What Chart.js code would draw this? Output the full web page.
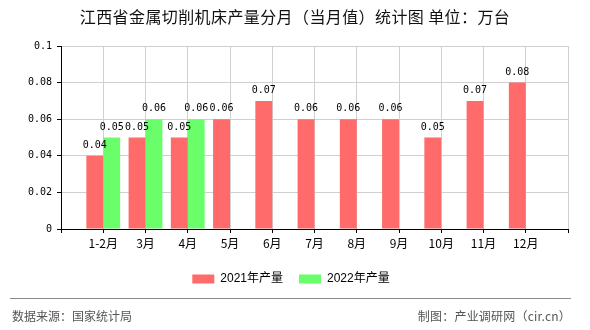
<!DOCTYPE html>
<html>
<head>
<meta charset="utf-8">
<script src="https://cdn.jsdelivr.net/npm/chart.js@4/dist/chart.umd.min.js"></script>
<style>
  body { margin: 0; background: #fff; }
  #wrap { position: relative; width: 590px; height: 330px; overflow: hidden; }
  #c { position: absolute; left: 0; top: 0; }
  .t { position: absolute; white-space: nowrap; font-family: "Noto Sans CJK SC", sans-serif; }
  #title { left: 0; width: 590px; top: 6px; text-align: center; font-size: 16px; line-height: 20px; color: #111; letter-spacing: 0.4px; }
  #rule { position: absolute; left: 10px; top: 298px; width: 561px; height: 1px; background: #8a8a8a; }
  #src { left: 12px; top: 307px; font-size: 12px; line-height: 18px; color: #555; }
  #maker { right: 19px; top: 307px; font-size: 12px; line-height: 18px; color: #555; letter-spacing: 0.2px; }
</style>
</head>
<body>
<div id="wrap">
  <canvas id="c" width="590" height="330"></canvas>
  <div id="title" class="t">江西省金属切削机床产量分月（当月值）统计图 单位：万台</div>
  <div id="rule"></div>
  <div id="src" class="t">数据来源：国家统计局</div>
  <div id="maker" class="t">制图：产业调研网（cir.cn）</div>
</div>
<script>
// Months on the x axis
const months = ['1-2月', '3月', '4月', '5月', '6月', '7月', '8月', '9月', '10月', '11月', '12月'];
// Monthly output, 10k units
const output2021 = [0.04, 0.05, 0.05, 0.06, 0.07, 0.06, 0.06, 0.06, 0.05, 0.07, 0.08];
const output2022 = [0.05, 0.06, 0.06];
// Y axis tick labels
const yTickLabels = ['0', '0.02', '0.04', '0.06', '0.08', '0.1'];
const seriesNames = ['2021年产量', '2022年产量'];

// The axis has an empty slot at each end, so months sit on the grid lines
const labels = [''].concat(months, ['']);
const pad = arr => [null].concat(arr, new Array(months.length - arr.length).fill(null), [null]);

const monoFont = { family: '"DejaVu Sans Mono", monospace', size: 10 };

// Value labels above each bar
const valueLabels = {
  id: 'valueLabels',
  afterDatasetsDraw(chart) {
    const ctx = chart.ctx;
    ctx.save();
    ctx.font = '10px "DejaVu Sans Mono", monospace';
    ctx.fillStyle = '#000';
    ctx.textAlign = 'center';
    ctx.textBaseline = 'alphabetic';
    chart.data.datasets.forEach((ds, i) => {
      const meta = chart.getDatasetMeta(i);
      meta.data.forEach((bar, j) => {
        const v = ds.data[j];
        if (v === null || v === undefined) return;
        ctx.fillText(v.toFixed(2), bar.x, bar.y - 8);
      });
    });
    ctx.restore();
  }
};

new Chart(document.getElementById('c'), {
  type: 'bar',
  data: {
    labels: labels,
    datasets: [
      { label: seriesNames[0], data: pad(output2021), backgroundColor: '#ff6a6a' },
      { label: seriesNames[1], data: pad(output2022), backgroundColor: '#6aff6a' }
    ]
  },
  options: {
    responsive: false,
    devicePixelRatio: 1,
    animation: false,
    datasets: { bar: { categoryPercentage: 0.8, barPercentage: 1.0 } },
    layout: { padding: { top: 46, left: 14, right: 22, bottom: 35 } },
    plugins: {
      title: { display: false },
      tooltip: { enabled: false },
      legend: {
        position: 'bottom',
        labels: {
          boxWidth: 22,
          boxHeight: 9,
          padding: 16,
          color: '#000',
          font: { family: '"Liberation Sans", "Noto Sans CJK SC", sans-serif', size: 12 }
        }
      }
    },
    scales: {
      x: {
        offset: false,
        grid: { offset: false, color: '#d0d0d0', tickColor: '#000', tickLength: 4 },
        border: { color: '#000' },
        ticks: {
          autoSkip: false,
          maxRotation: 0,
          padding: 3,
          color: '#000',
          font: { family: '"Noto Sans CJK SC", sans-serif', size: 12 }
        },
        afterFit(scale) { scale.height = 28; }
      },
      y: {
        min: 0,
        max: 0.1,
        grid: { color: '#d0d0d0', tickColor: '#000', tickLength: 4 },
        border: { color: '#000' },
        ticks: {
          stepSize: 0.02,
          padding: 5,
          color: '#000',
          font: monoFont,
          callback: (v, i) => yTickLabels[i]
        },
        afterFit(scale) { scale.width = 47; }
      }
    }
  },
  plugins: [valueLabels]
});
</script>
</body>
</html>
